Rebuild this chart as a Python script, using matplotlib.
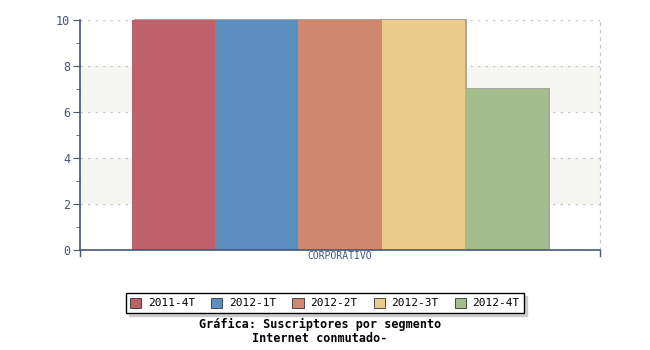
import numpy as np
import matplotlib
matplotlib.use("Agg")
import matplotlib.pyplot as plt
from matplotlib.ticker import MultipleLocator

categoria = ['CORPORATIVO']
periodos = ['2011-4T', '2012-1T', '2012-2T', '2012-3T', '2012-4T']
valores = [10, 10, 10, 10, 7]
colores = ['#bf616a', '#5b8fbf', '#d08770', '#ebcb8b', '#a3be8c']

azul = '#44557a'
plt.rcParams['font.family'] = 'DejaVu Sans Mono'

fig = plt.figure(figsize=(6.5, 3.5), dpi=100)
ax = fig.add_axes([80/650, 100/350, 520/650, 230/350])

# franjas alternas
for y0 in (2, 6):
    ax.axhspan(y0, y0 + 2, color='#f5f5f1', zorder=0, lw=0)
for y in (2, 4, 6, 8, 10):
    ax.axhline(y, color='#c8c8c8', ls=(0, (2, 4)), lw=0.9, zorder=0.5)

ancho = 0.16
n = len(periodos)
for i, (p, v, c) in enumerate(zip(periodos, valores, colores)):
    x = (i - (n - 1) / 2) * ancho
    # sombra
    ax.bar(x + 0.004, v + 0.03, ancho, bottom=0, color='#a8a8a0', zorder=1.5,
           clip_on=False)
    ax.bar(x, v - 0.02, ancho, color=c, label=p, zorder=2, lw=0)

ax.set_xlim(-0.5, 0.5)
ax.set_ylim(0, 10)
ax.set_xticks([0])
ax.set_xticklabels(categoria, fontsize=7, color=azul)
ax.tick_params(axis='x', length=0, pad=1)
ax.yaxis.set_major_locator(MultipleLocator(2))
ax.yaxis.set_minor_locator(MultipleLocator(1))
ax.tick_params(axis='y', which='major', length=5, color=azul, labelcolor=azul,
               labelsize=8.5, pad=2)
ax.tick_params(axis='y', which='minor', length=3, color=azul)

ax.spines['top'].set_visible(False)
ax.spines['right'].set_color('#c8c8c8')
ax.spines['right'].set_linestyle((0, (2, 4)))
ax.spines['right'].set_linewidth(0.9)
ax.spines['left'].set_color(azul)
ax.spines['bottom'].set_color(azul)
ax.spines['left'].set_linewidth(1.2)
ax.spines['bottom'].set_linewidth(1.2)
# marcas en los extremos del eje x
ax.plot([1.0, 1.0], [0, -0.025], color=azul, lw=1, transform=ax.transAxes,
        clip_on=False)
ax.plot([0.0, 0.0], [0, -0.025], color=azul, lw=1, transform=ax.transAxes,
        clip_on=False)

leg = fig.legend(loc='center', bbox_to_anchor=(325/650, 1 - 303/350), ncol=5,
                 fontsize=8, frameon=True, fancybox=False,
                 shadow={'color': '#aaaaaa'},
                 handlelength=1.0, handleheight=1.0, handletextpad=0.6,
                 columnspacing=1.45, borderpad=0.4, edgecolor='black')
leg.get_frame().set_linewidth(1.0)
for h in leg.legend_handles:
    h.set_edgecolor('#333333')
    h.set_linewidth(0.6)

fig.text(320/650, 1 - 324/350, 'Gráfica: Suscriptores por segmento',
         ha='center', va='center', fontsize=8.5, fontweight='bold')
fig.text(320/650, 1 - 338/350, 'Internet conmutado-',
         ha='center', va='center', fontsize=8.5, fontweight='bold')

fig.savefig('out.png', dpi=100, facecolor='white')
